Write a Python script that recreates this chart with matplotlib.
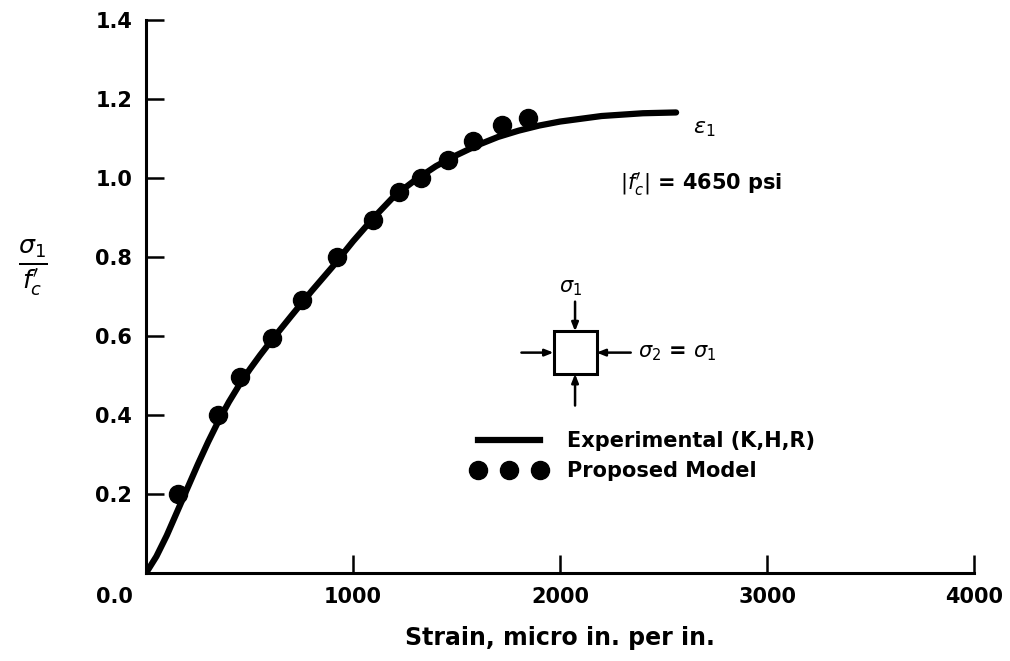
import matplotlib
matplotlib.use("Agg")
import matplotlib.pyplot as plt
import matplotlib.transforms as mtransforms
from matplotlib.lines import Line2D

# Experimental curve (K, H, R)
strain_exp = [0, 50, 100, 150, 200, 250, 300, 350, 400, 450, 500, 550, 600, 700, 800,
              900, 1000, 1100, 1200, 1300, 1400, 1500, 1600, 1700, 1800, 1900,
              2000, 2200, 2400, 2560]
stress_exp = [0, 0.042, 0.095, 0.155, 0.215, 0.275, 0.332, 0.385, 0.433, 0.476, 0.515,
              0.551, 0.585, 0.65, 0.714, 0.775, 0.84, 0.90, 0.955, 0.995, 1.03, 1.058,
              1.083, 1.104, 1.12, 1.133, 1.143, 1.157, 1.164, 1.166]

# Proposed model points
strain_model = [156, 349, 454, 607, 755, 921, 1098, 1224, 1327, 1460, 1581, 1718, 1847]
stress_model = [0.20, 0.40, 0.495, 0.595, 0.69, 0.80, 0.895, 0.965, 1.0, 1.046,
                1.094, 1.134, 1.153]

xticks = [0, 1000, 2000, 3000, 4000]
xticklabels = ["0.0", "1000", "2000", "3000", "4000"]
yticks = [0.2, 0.4, 0.6, 0.8, 1.0, 1.2, 1.4]
yticklabels = ["0.2", "0.4", "0.6", "0.8", "1.0", "1.2", "1.4"]

plt.rcParams["font.family"] = ["DejaVu Sans"]
plt.rcParams["mathtext.fontset"] = "dejavusans"

fig = plt.figure(figsize=(10.1, 6.61), dpi=100)
ax = fig.add_axes([0.1446, 0.1331, 0.82, 0.8366])

ax.plot(strain_exp, stress_exp, color="black", lw=4.5, solid_capstyle="round")
ax.plot(strain_model, stress_model, "o", color="black", markersize=13)

ax.set_xlim(0, 4000)
ax.set_ylim(0, 1.4)
for s in ["top", "right"]:
    ax.spines[s].set_visible(False)
for s in ["left", "bottom"]:
    ax.spines[s].set_linewidth(2.2)

ax.set_xticks(xticks)
ax.set_xticklabels(xticklabels)
ax.set_yticks(yticks)
ax.set_yticklabels(yticklabels)
ax.tick_params(direction="in", length=13, width=1.8, labelsize=15, pad=10)
for lab in ax.get_xticklabels() + ax.get_yticklabels():
    lab.set_fontweight("bold")

# shift the "0.0" label left, below the origin
offset = mtransforms.ScaledTranslation(-0.32, 0, fig.dpi_scale_trans)
lab0 = ax.get_xticklabels()[0]
lab0.set_transform(lab0.get_transform() + offset)

ax.set_xlabel("Strain, micro in. per in.", fontsize=17, fontweight="bold", labelpad=14)
fig.text(0.033, 0.595, r"$\frac{\sigma_1}{f_c^{\prime}}$", fontsize=26,
         ha="center", va="center")

# annotations
ax.text(2640, 1.123, r"$\epsilon_1$", fontsize=16, va="center")
ax.text(2290, 0.984, r"$|f_c^{\prime}|$ = 4650 psi", fontsize=15,
        fontweight="bold", va="center")

# loading diagram
cx, cy = 2072, 0.558
hw, hh = 104, 0.054
ax.add_patch(plt.Rectangle((cx - hw, cy - hh), 2 * hw, 2 * hh, fill=False,
                           lw=2.2, ec="black"))
arrow = dict(arrowstyle="-|>,head_length=0.5,head_width=0.2", color="black", lw=1.8,
             shrinkA=0, shrinkB=0)
ax.annotate("", xy=(cx, cy + hh), xytext=(cx, cy + hh + 0.075), arrowprops=arrow)
ax.annotate("", xy=(cx, cy - hh), xytext=(cx, cy - hh - 0.08), arrowprops=arrow)
ax.annotate("", xy=(cx - hw, cy), xytext=(cx - hw - 155, cy), arrowprops=arrow)
ax.annotate("", xy=(cx + hw, cy), xytext=(cx + hw + 165, cy), arrowprops=arrow)
ax.text(cx - 20, cy + hh + 0.11, r"$\sigma_1$", fontsize=15, ha="center", va="center")
ax.text(cx + hw + 200, cy, r"$\sigma_2$ = $\sigma_1$", fontsize=15,
        fontweight="bold", va="center")

handles = [Line2D([], [], color="black", lw=4.5),
           Line2D([], [], color="black", ls="none", marker="o", markersize=13)]
leg = ax.legend(handles, ["Experimental (K,H,R)", "Proposed Model"],
                loc="upper left", bbox_to_anchor=(0.393, 0.257), frameon=False,
                numpoints=3, handlelength=3.6, handletextpad=1.0,
                prop={"size": 15, "weight": "bold"}, labelspacing=0.5,
                borderpad=0, borderaxespad=0)

fig.savefig("out.png", dpi=100)
